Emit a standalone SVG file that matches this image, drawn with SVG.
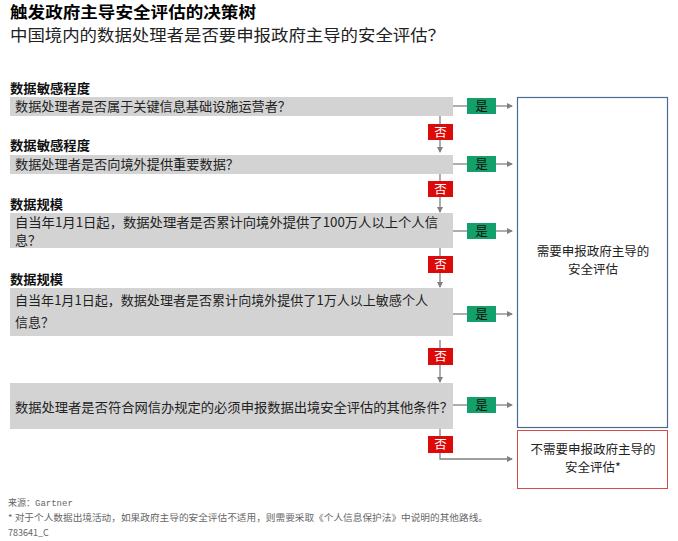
<svg xmlns="http://www.w3.org/2000/svg" width="678" height="541" viewBox="0 0 678 541">
<defs>
<marker id="ah" markerWidth="6" markerHeight="6" refX="5" refY="3" orient="auto" markerUnits="userSpaceOnUse">
<path d="M0,0 L6,3 L0,6 Z" fill="#808080"/>
</marker>
<style>
text{font-family:"Noto Sans CJK SC","Liberation Sans",sans-serif;}
.title{font-size:15.5px;font-weight:bold;fill:#000;}
.sub{font-size:16px;fill:#222;}
.lbl{font-size:13px;font-weight:bold;fill:#111;}
.q{fill:#d3d3d3;}
.qt{font-size:13px;fill:#222;}
.yes{fill:#13a06b;}
.no{fill:#dd0a0a;}
.yt{font-size:12.5px;fill:#111;text-anchor:middle;}
.nt{font-size:12.5px;fill:#fff;text-anchor:middle;}
.ln{stroke:#808080;stroke-width:1.3;fill:none;}
.rt{font-size:12.5px;fill:#222;text-anchor:middle;}
.ft{font-size:9px;fill:#666;}
</style>
</defs>
<rect width="678" height="541" fill="#fff"/>
<g id="header">
<text class="title" x="10" y="18" textLength="246" lengthAdjust="spacingAndGlyphs">触发政府主导安全评估的决策树</text>
<text class="sub" x="10" y="41" textLength="435" lengthAdjust="spacingAndGlyphs">中国境内的数据处理者是否要申报政府主导的安全评估？</text>
</g>
<g id="connectors">
<path class="ln" d="M453,106 H467"/>
<path class="ln" d="M496,106 H512" marker-end="url(#ah)"/>
<path class="ln" d="M440,116 V124"/>
<path class="ln" d="M440,140 V152" marker-end="url(#ah)"/>
<path class="ln" d="M453,164 H467"/>
<path class="ln" d="M496,164 H512" marker-end="url(#ah)"/>
<path class="ln" d="M440,174 V181"/>
<path class="ln" d="M440,197 V212" marker-end="url(#ah)"/>
<path class="ln" d="M453,231 H467"/>
<path class="ln" d="M496,231 H512" marker-end="url(#ah)"/>
<path class="ln" d="M440,248 V256"/>
<path class="ln" d="M440,273 V287" marker-end="url(#ah)"/>
<path class="ln" d="M453,314 H467"/>
<path class="ln" d="M496,314 H512" marker-end="url(#ah)"/>
<path class="ln" d="M440,340 V348"/>
<path class="ln" d="M440,365 V382" marker-end="url(#ah)"/>
<path class="ln" d="M453,405 H467"/>
<path class="ln" d="M496,405 H512" marker-end="url(#ah)"/>
<path class="ln" d="M440,429 V436"/>
<path class="ln" d="M440,453 V459 H512" marker-end="url(#ah)"/>
</g>
<g id="q1">
<text class="lbl" x="10" y="93" textLength="80" lengthAdjust="spacingAndGlyphs">数据敏感程度</text>
<rect class="q" x="10" y="97" width="443" height="19"/>
<text class="qt" x="15" y="111" textLength="276" lengthAdjust="spacingAndGlyphs">数据处理者是否属于关键信息基础设施运营者？</text>
</g>
<g id="q2">
<text class="lbl" x="10" y="150" textLength="80" lengthAdjust="spacingAndGlyphs">数据敏感程度</text>
<rect class="q" x="10" y="155" width="443" height="19"/>
<text class="qt" x="15" y="169" textLength="224" lengthAdjust="spacingAndGlyphs">数据处理者是否向境外提供重要数据？</text>
</g>
<g id="q3">
<text class="lbl" x="10" y="209" textLength="53" lengthAdjust="spacingAndGlyphs">数据规模</text>
<rect class="q" x="10" y="213" width="443" height="35"/>
<text class="qt" x="15" y="227" textLength="423" lengthAdjust="spacingAndGlyphs">自当年1月1日起，数据处理者是否累计向境外提供了100万人以上个人信</text>
<text class="qt" x="15" y="245">息？</text>
</g>
<g id="q4">
<text class="lbl" x="10" y="284" textLength="53" lengthAdjust="spacingAndGlyphs">数据规模</text>
<rect class="q" x="10" y="288" width="443" height="48"/>
<text class="qt" x="15" y="305" textLength="413" lengthAdjust="spacingAndGlyphs">自当年1月1日起，数据处理者是否累计向境外提供了1万人以上敏感个人</text>
<text class="qt" x="15" y="327">信息？</text>
</g>
<g id="q5">
<rect class="q" x="10" y="383" width="443" height="46"/>
<text class="qt" x="15" y="412" textLength="438" lengthAdjust="spacingAndGlyphs">数据处理者是否符合网信办规定的必须申报数据出境安全评估的其他条件？</text>
</g>
<g id="answers">
<rect class="yes" x="467" y="98" width="29" height="16"/><text class="yt" x="481.5" y="111">是</text>
<rect class="yes" x="467" y="156" width="29" height="16"/><text class="yt" x="481.5" y="169">是</text>
<rect class="yes" x="467" y="223" width="29" height="16"/><text class="yt" x="481.5" y="236">是</text>
<rect class="yes" x="467" y="306" width="29" height="16"/><text class="yt" x="481.5" y="319">是</text>
<rect class="yes" x="467" y="397" width="29" height="16"/><text class="yt" x="481.5" y="410">是</text>
<rect class="no" x="428" y="124" width="25" height="16"/><text class="nt" x="440.5" y="137">否</text>
<rect class="no" x="428" y="181" width="25" height="16"/><text class="nt" x="440.5" y="194">否</text>
<rect class="no" x="428" y="256" width="25" height="17"/><text class="nt" x="440.5" y="269">否</text>
<rect class="no" x="428" y="348" width="25" height="17"/><text class="nt" x="440.5" y="361">否</text>
<rect class="no" x="428" y="436" width="25" height="17"/><text class="nt" x="440.5" y="449">否</text>
</g>
<g id="result-yes">
<rect x="517.5" y="97.5" width="150" height="330" fill="#fff" stroke="#4a6a90" stroke-width="1.2"/>
<text class="rt" x="593" y="256">需要申报政府主导的</text>
<text class="rt" x="593" y="274">安全评估</text>
</g>
<g id="result-no">
<rect x="517.5" y="430.5" width="150" height="58" fill="#fff" stroke="#d84a4a" stroke-width="1"/>
<text class="rt" x="593" y="454">不需要申报政府主导的</text>
<text class="rt" x="593" y="472">安全评估*</text>
</g>
<g id="footer">
<text class="ft" x="8" y="506">来源：<tspan font-family="Liberation Mono, monospace">Gartner</tspan></text>
<text class="ft" x="8" y="521" textLength="480" lengthAdjust="spacingAndGlyphs">* 对于个人数据出境活动，如果政府主导的安全评估不适用，则需要采取《个人信息保护法》中说明的其他路线。</text>
<text class="ft" x="8" y="536">783641_C</text>
</g>
</svg>
